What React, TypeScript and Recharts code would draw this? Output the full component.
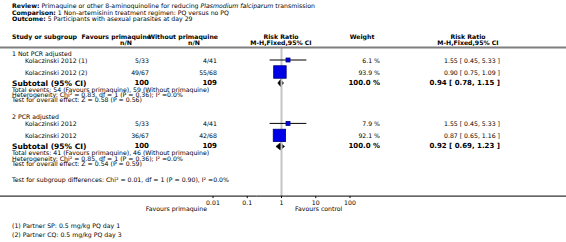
import React from "react";
import { ComposedChart, XAxis, YAxis, Scatter, ErrorBar, Area, ReferenceLine } from "recharts";

const W = 566;
const H = 242;
const FONT = "'DejaVu Sans', Verdana, sans-serif";
const FS = 6.2;

// ---- data ----
const titleLabels = ["Review:", "Comparison:", "Outcome:"];
const titleTexts = [
  "Primaquine or other 8-aminoquinoline for reducing ",
  "1 Non-artemisinin treatment regimen: PQ versus no PQ",
  "5 Participants with asexual parasites at day 29",
];
const groupNames = ["1 Not PCR adjusted", "2 PCR adjusted"];
const studyNames = [
  ["Kolaczinski 2012 (1)", "Kolaczinski 2012 (2)"],
  ["Kolaczinski 2012", "Kolaczinski 2012"],
];
const pqEvents = [[5, 49], [5, 36]];
const pqTotals = [[33, 67], [33, 67]];
const ctlEvents = [[4, 55], [4, 42]];
const ctlTotals = [[41, 68], [41, 68]];
const weights = [[6.1, 93.9], [7.9, 92.1]];
const studyRR = [[1.55, 0.9], [1.55, 0.87]];
const studyLo = [[0.45, 0.75], [0.45, 0.65]];
const studyHi = [[5.33, 1.09], [5.33, 1.16]];
const subtotalN = [[100, 109], [100, 109]];
const subtotalRR = [0.94, 0.92];
const subtotalLo = [0.78, 0.69];
const subtotalHi = [1.15, 1.23];
const totalEvents = [[54, 59], [41, 46]];
const heterogeneity = [
  "Heterogeneity: Chi\u00b2 = 0.83, df = 1 (P = 0.36); I\u00b2 =0.0%",
  "Heterogeneity: Chi\u00b2 = 0.85, df = 1 (P = 0.36); I\u00b2 =0.0%",
];
const overallEffect = [
  "Test for overall effect: Z = 0.58 (P = 0.56)",
  "Test for overall effect: Z = 0.54 (P = 0.59)",
];
const subgroupTest = "Test for subgroup differences: Chi\u00b2 = 0.01, df = 1 (P = 0.90), I\u00b2 =0.0%";
const axisTicks = [0.01, 0.1, 1, 10, 100];
const axisTickLabels = ["0.01", "0.1", "1", "10", "100"];
const favoursLabels = ["Favours primaquine", "Favours control"];
const footnotes = ["(1) Partner SP: 0.5 mg/kg PQ day 1", "(2) Partner CQ: 0.5 mg/kg PQ day 3"];

// ---- layout ----
const COL = {
  group: 12,
  study: 25,
  pq: 149,
  pqHead: 151,
  pqNN: 126,
  ctl: 217,
  ctlHead: 218,
  ctlNN: 194,
  plot: 281,
  weight: 380,
  weightHead: 362,
  rr: 500,
  rrHead: 468,
};

type Row = { x: number; y: number; kind: string; g?: number; i?: number };
// pad rows pin the vertical scale to the full picture height
const rows: Row[] = [
  { x: 1, y: 0, kind: "pad" },
  { x: 1, y: H, kind: "pad" },
];
let cursor = -1.5;
const push = (kind: string, gap: number, extra: Partial<Row> = {}) => {
  cursor += gap;
  rows.push({ x: 1, y: cursor, kind, ...extra });
  return cursor;
};
titleLabels.forEach((_, i) => push("title", 6.5, { i }));
push("head1", 18.5);
push("head2", 6);
const ruleY = push("rule", 5);
const studyY: number[][] = [];
const subY: number[] = [];
groupNames.forEach((_, g) => {
  push("group", g === 0 ? 5.5 : 16.5, { g });
  studyY[g] = studyNames[g].map((_, i) => push("study", i === 0 ? 7 : 12, { g, i }));
  subY[g] = push("subtotal", 11, { g });
  push("events", 6.5, { g });
  push("het", 5.2, { g });
  push("overall", 5.2, { g });
});
push("subgroup", 16.3);
const axisY = push("axis", 16.5);
const tickY = axisY + 6;
push("favours", 12);
footnotes.forEach((_, i) => push("foot", i === 0 ? 17.5 : 9, { i }));

const studyPoints = studyRR.flatMap((grp, g) =>
  grp.map((rr, i) => ({
    x: rr,
    y: studyY[g][i],
    err: [rr - studyLo[g][i], studyHi[g][i] - rr],
    size: Math.max(4, 12.5 * Math.sqrt(weights[g][i] / 94)),
  }))
);
const tickPoints = axisTicks.map((v, i) => ({ x: v, y: tickY, label: axisTickLabels[i] }));

const txt = (x: number, y: number, s: React.ReactNode, anchor = "start", size = FS, weight: any = "normal") => (
  <text x={x} y={y} textAnchor={anchor} dominantBaseline="central" fontSize={size} fontWeight={weight} fontFamily={FONT} fill="#000">
    {s}
  </text>
);

const renderRow = (p: any) => {
  const { cy, payload } = p;
  const g = payload.g;
  const i = payload.i;
  switch (payload.kind) {
    case "title":
      return (
        <text x={COL.group} y={cy} dominantBaseline="central" fontSize={FS} fontFamily={FONT} fill="#000">
          <tspan fontWeight="bold">{titleLabels[i]}</tspan>
          <tspan> {titleTexts[i]}</tspan>
          {i === 0 && <tspan fontStyle="italic">Plasmodium falciparum</tspan>}
          {i === 0 && <tspan> transmission</tspan>}
        </text>
      );
    case "head1":
      return (
        <g>
          {txt(COL.group, cy, "Study or subgroup", "start", FS, "bold")}
          {txt(COL.pqHead, cy, "Favours primaquine", "end", FS, "bold")}
          {txt(COL.ctlHead, cy, "Without primaquine", "end", FS, "bold")}
          {txt(COL.plot, cy, "Risk Ratio", "middle", FS, "bold")}
          {txt(COL.weightHead, cy, "Weight", "middle", FS, "bold")}
          {txt(COL.rrHead, cy, "Risk Ratio", "middle", FS, "bold")}
        </g>
      );
    case "head2":
      return (
        <g>
          {txt(COL.pqNN, cy, "n/N", "middle", FS, "bold")}
          {txt(COL.ctlNN, cy, "n/N", "middle", FS, "bold")}
          {txt(COL.plot, cy, "M-H,Fixed,95% CI", "middle", FS, "bold")}
          {txt(COL.rrHead, cy, "M-H,Fixed,95% CI", "middle", FS, "bold")}
        </g>
      );
    case "rule":
      return <line x1={0} x2={W} y1={cy} y2={cy} stroke="#7f7f7f" strokeWidth={2} />;
    case "group":
      return txt(COL.group, cy, groupNames[g]);
    case "study":
      return (
        <g>
          {txt(COL.study, cy, studyNames[g][i])}
          {txt(COL.pq, cy, `${pqEvents[g][i]}/${pqTotals[g][i]}`, "end")}
          {txt(COL.ctl, cy, `${ctlEvents[g][i]}/${ctlTotals[g][i]}`, "end")}
          {txt(COL.weight, cy, `${weights[g][i].toFixed(1)} %`, "end")}
          {txt(COL.rr, cy, `${studyRR[g][i].toFixed(2)} [ ${studyLo[g][i].toFixed(2)}, ${studyHi[g][i].toFixed(2)} ]`, "end")}
        </g>
      );
    case "subtotal":
      return (
        <g>
          {txt(COL.group, cy, "Subtotal (95% CI)", "start", 7.5, "bold")}
          {txt(COL.pq, cy, String(subtotalN[g][0]), "end", 7, "bold")}
          {txt(COL.ctl, cy, String(subtotalN[g][1]), "end", 7, "bold")}
          {txt(COL.weight, cy, "100.0 %", "end", 7, "bold")}
          {txt(COL.rr, cy, `${subtotalRR[g].toFixed(2)} [ ${subtotalLo[g].toFixed(2)}, ${subtotalHi[g].toFixed(2)} ]`, "end", 7, "bold")}
        </g>
      );
    case "events":
      return txt(COL.group, cy, `Total events: ${totalEvents[g][0]} (Favours primaquine), ${totalEvents[g][1]} (Without primaquine)`);
    case "het":
      return txt(COL.group, cy, heterogeneity[g]);
    case "overall":
      return txt(COL.group, cy, overallEffect[g]);
    case "subgroup":
      return txt(COL.group, cy, subgroupTest);
    case "axis":
      return <line x1={0} x2={W} y1={cy} y2={cy} stroke="#000" strokeWidth={1} />;
    case "favours":
      return (
        <g>
          {txt(207, cy, favoursLabels[0], "end")}
          {txt(295, cy, favoursLabels[1], "start")}
        </g>
      );
    case "foot":
      return txt(COL.group, cy, footnotes[i]);
    default:
      return <g />;
  }
};

const renderTick = (p: any) => (
  <g>
    <line x1={p.cx} x2={p.cx} y1={axisY} y2={axisY + 2} stroke="#000" strokeWidth={1} />
    {txt(p.cx, p.cy, p.payload.label, "middle")}
  </g>
);

const renderSquare = (p: any) => {
  const s = p.payload.size;
  return <rect x={p.cx - s / 2} y={p.cy - s / 2} width={s} height={s} fill="#0000e6" stroke="#00007a" strokeWidth={0.8} />;
};

export default function App() {
  // sit at the page's top-left corner, past the default body margin
  return (
    <div style={{ position: "absolute", left: 0, top: 0, width: W, height: H, background: "#fff" }}>
      <ComposedChart width={W} height={H} margin={{ top: 0, right: 216, bottom: 0, left: 213 }}>
        <XAxis dataKey="x" type="number" scale="log" domain={[0.01, 100]} hide />
        <YAxis dataKey="y" type="number" domain={[0, H]} reversed hide />
        <ReferenceLine
          segment={[
            { x: 1, y: ruleY },
            { x: 1, y: axisY },
          ]}
          stroke="#c4c4c4"
          strokeWidth={2}
        />
        <Scatter data={rows} shape={renderRow} isAnimationActive={false} />
        <Scatter data={tickPoints} shape={renderTick} isAnimationActive={false} />
        {subtotalRR.map((rr, g) => (
          <Area
            key={g}
            data={[
              { x: subtotalLo[g], band: [subY[g], subY[g]] },
              { x: rr, band: [subY[g] - 3.5, subY[g] + 3.5] },
              { x: subtotalHi[g], band: [subY[g], subY[g]] },
            ]}
            dataKey="band"
            type="linear"
            fill="#000"
            fillOpacity={1}
            stroke="#000"
            strokeWidth={0.6}
            dot={false}
            activeDot={false}
            isAnimationActive={false}
          />
        ))}
        <Scatter data={studyPoints} shape={renderSquare} isAnimationActive={false}>
          <ErrorBar dataKey="err" direction="x" width={0} stroke="#000" strokeWidth={1} />
        </Scatter>
      </ComposedChart>
    </div>
  );
}
